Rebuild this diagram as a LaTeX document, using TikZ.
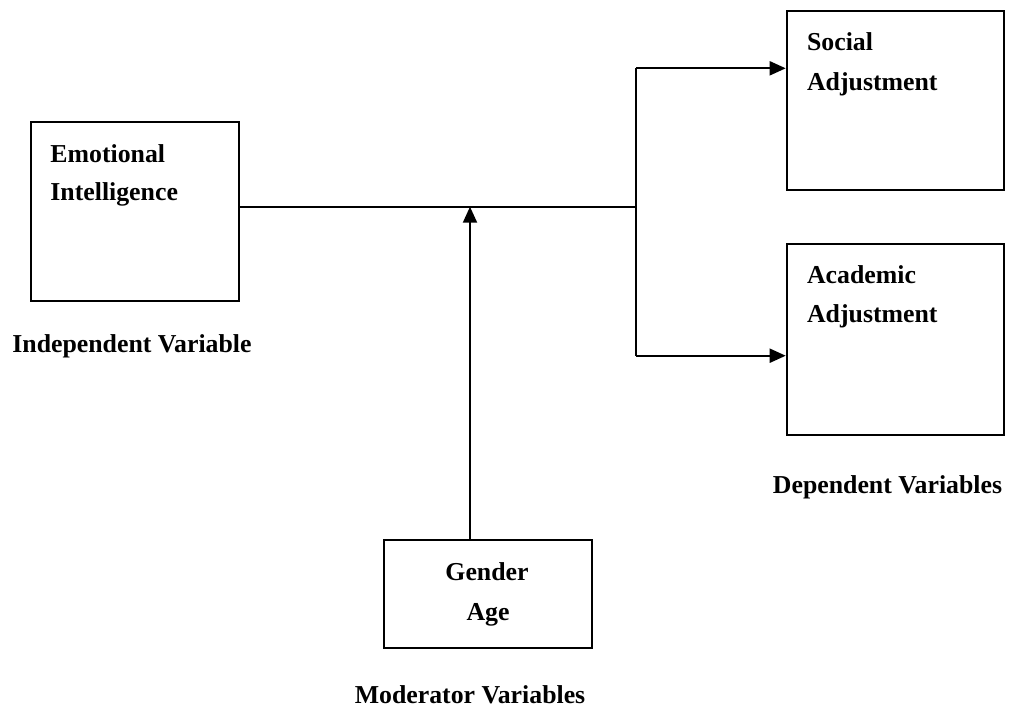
\documentclass[tikz,border=0pt]{standalone}
\usepackage{fontspec}
\setmainfont{Liberation Serif}
\usetikzlibrary{arrows.meta}
\begin{document}
\begin{tikzpicture}[x=0.5pt,y=-0.5pt,
  box/.style={draw=black,line width=1pt,rectangle,inner sep=0pt,anchor=north west},
  lbl/.style={inner sep=0pt,font=\fontsize{12.9}{15}\selectfont\bfseries},
  conn/.style={line width=1pt,black},
  arr/.style={conn,-{Triangle[length=8pt,width=7pt]}}]
\useasboundingbox (0,0) rectangle (1011,709);
% boxes
\node[box,minimum width=104pt,minimum height=89.65pt] (ei) at (30,120.7) {};
\node[box,minimum width=108.65pt,minimum height=89.5pt] (soc) at (785.7,10) {};
\node[box,minimum width=108.65pt,minimum height=95.65pt] (acad) at (785.7,242.7) {};
\node[box,minimum width=104pt,minimum height=53.85pt] (gen) at (383,539) {};
% box texts
\node[lbl,anchor=base west] (t1) at (50,162.3) {Emotional};
\node[lbl,anchor=base west] (t2) at (50,200.7) {Intelligence};
\node[lbl,anchor=base west] (t3) at (806.7,50.7) {Social};
\node[lbl,anchor=base west] (t4) at (806.7,90.7) {Adjustment};
\node[lbl,anchor=base west] (t5) at (806.7,283) {Academic};
\node[lbl,anchor=base west] (t6) at (806.7,322.7) {Adjustment};
\node[lbl,anchor=base] (t7) at (487,580) {Gender};
\node[lbl,anchor=base] (t8) at (488,620) {Age};
% captions
\node[lbl,anchor=base] (c1) at (132,352.7) {Independent Variable};
\node[lbl,anchor=base] (c2) at (887.5,493.3) {Dependent Variables};
\node[lbl,anchor=base] (c3) at (470,703) {Moderator Variables};
% connectors
\coordinate (j) at (636,206.7);
\coordinate (mod) at (470,206.7);
\coordinate (top) at (636,68.3);
\coordinate (bot) at (636,355.7);
\draw[conn] (ei.east |- j) -- (j);
\draw[conn] (top) -- (bot);
\draw[arr] (top) -- (top -| soc.west);
\draw[arr] (bot) -- (bot -| acad.west);
\draw[arr] (mod |- gen.north) -- (mod);
\end{tikzpicture}
\end{document}
